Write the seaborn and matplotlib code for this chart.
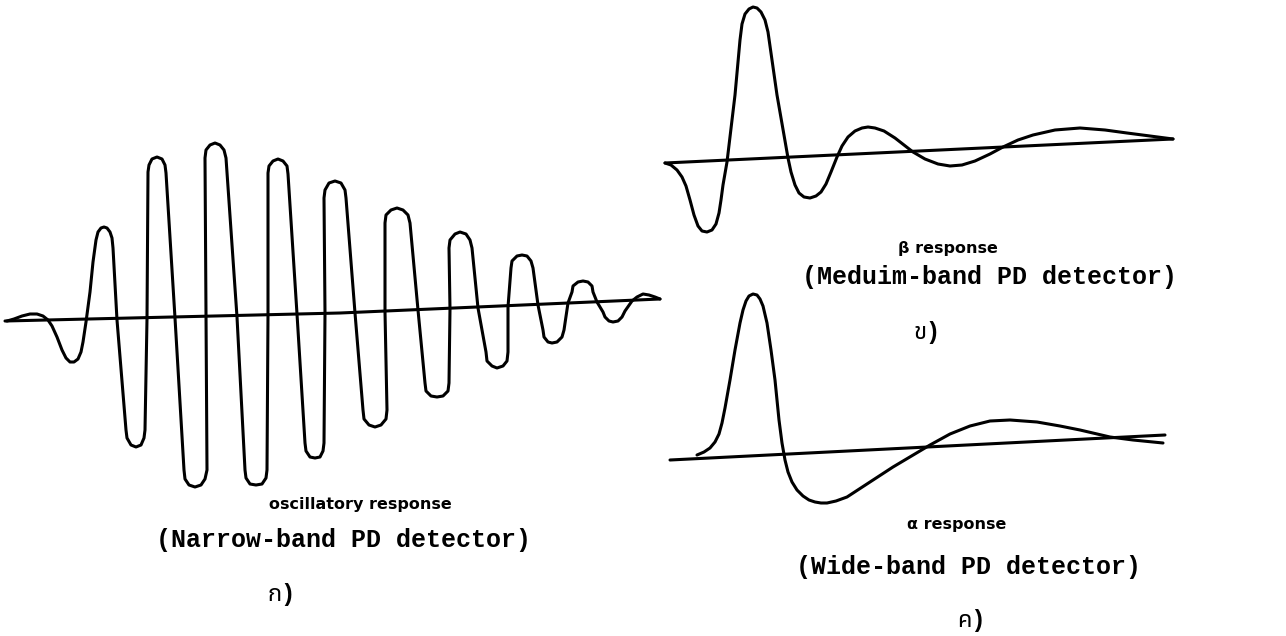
import seaborn as sns
import matplotlib.pyplot as plt

# values, in image pixel coordinates (y grows downwards)

# oscillatory response (narrow-band detector), left
osc_points = [
    (7, 321), (14, 319), (22, 316), (30, 314), (37, 314), (43, 316), (48, 320),
    (52, 326), (57, 337), (62, 350), (66, 358), (70, 362), (74, 362), (78, 359),
    (81, 352), (83, 342), (86, 322), (90, 292), (93, 262), (96, 240), (98, 232),
    (101, 228), (104, 227), (107, 228), (110, 232), (112, 238), (113, 248),
    (117, 320),
    (126, 430), (127, 438), (131, 445), (136, 447), (141, 445), (144, 438), (145, 430),
    (147, 319),
    (148, 172), (149, 165), (152, 159), (157, 157), (162, 159), (165, 165), (166, 173),
    (175, 318),
    (184, 470), (185, 479), (189, 485), (195, 487), (201, 485), (205, 479), (207, 470),
    (206, 318),
    (205, 158), (206, 150), (210, 145), (215, 143), (220, 145), (224, 150), (226, 158),
    (237, 317),
    (245, 470), (246, 478), (250, 484), (256, 485), (262, 484), (266, 478), (267, 470),
    (268, 315),
    (268, 173), (269, 166), (273, 161), (278, 159), (283, 161), (287, 166), (288, 174),
    (297, 314),
    (305, 443), (306, 451), (310, 457), (315, 458), (320, 457), (323, 451), (324, 443),
    (325, 313),
    (324, 198), (325, 190), (329, 183), (335, 181), (341, 183), (345, 190), (346, 198),
    (355, 313),
    (363, 410), (364, 419), (369, 425), (375, 427), (381, 425), (386, 419), (387, 410),
    (385, 312),
    (385, 223), (386, 215), (391, 210), (397, 208), (403, 210), (408, 215), (410, 223),
    (418, 310),
    (425, 383), (426, 391), (431, 396), (437, 397), (443, 396), (448, 391), (449, 383),
    (450, 309),
    (449, 248), (450, 240), (455, 234), (460, 232), (466, 234), (470, 240), (472, 248),
    (478, 308),
    (486, 352), (487, 361), (492, 366), (497, 368), (503, 366), (507, 361), (508, 352),
    (508, 307),
    (511, 268), (512, 261), (517, 256), (522, 255), (527, 256), (531, 261), (533, 268),
    (538, 305),
    (543, 330), (544, 337), (548, 342), (552, 343), (557, 342), (562, 337), (564, 330),
    (568, 303),
    (572, 292), (573, 286), (578, 282), (583, 281), (588, 282), (592, 286), (593, 292),
    (597, 302),
    (603, 312), (605, 317), (609, 321), (613, 322), (618, 321), (622, 317), (625, 311),
    (632, 301), (637, 297), (643, 294), (649, 295), (655, 297), (660, 299),
]
osc_base = [(5, 321), (340, 313), (660, 299)]

# beta response (medium-band detector), top right
beta_points = [
    (665, 163), (671, 165), (677, 170), (682, 177), (686, 186), (690, 200),
    (694, 215), (698, 226), (702, 231), (707, 232), (712, 230), (716, 224),
    (719, 213), (721, 200), (723, 185), (727, 162), (735, 95), (740, 40),
    (742, 24), (745, 14), (749, 9), (753, 7), (757, 8), (761, 12), (765, 20),
    (768, 32), (777, 95), (788, 158), (791, 172), (795, 185), (799, 193),
    (804, 197), (810, 198), (816, 196), (821, 192), (826, 184), (831, 172),
    (837, 157), (842, 146), (848, 137), (855, 131), (862, 128), (868, 127),
    (875, 128), (884, 131), (895, 138), (913, 152), (925, 159), (938, 164),
    (950, 166), (962, 165), (975, 161), (990, 154), (1003, 147), (1018, 140),
    (1033, 135), (1055, 130), (1080, 128), (1105, 130), (1127, 133), (1150, 136),
    (1173, 139),
]
beta_base = [(665, 163), (1173, 139)]

# alpha response (wide-band detector), bottom right
alpha_points = [
    (697, 455), (704, 452), (710, 448), (715, 442), (719, 434), (722, 423),
    (725, 408), (730, 380), (735, 350), (740, 323), (743, 310), (746, 301),
    (749, 296), (753, 294), (757, 295), (760, 299), (763, 306), (767, 323),
    (771, 350), (775, 380), (779, 420), (782, 443), (785, 460), (788, 472),
    (792, 482), (797, 490), (803, 496), (809, 500), (815, 502), (821, 503),
    (827, 503), (836, 501), (847, 497), (870, 482), (893, 467), (930, 445),
    (950, 434), (970, 426), (990, 421), (1010, 420), (1037, 422), (1060, 426),
    (1080, 430), (1110, 437), (1133, 440), (1163, 443),
]
alpha_base = [(670, 460), (1165, 435)]

# captions
small_labels = ["oscillatory response", "β response", "α response"]
small_pos = [(360, 505), (948, 248), (957, 525)]
detector_labels = ["(Narrow-band PD detector)", "(Meduim-band PD detector)",
                   "(Wide-band PD detector)"]
detector_pos = [(343, 540), (989, 277), (969, 567)]
panel_labels = ["ก)", "ข)", "ค)"]
panel_pos = [(282, 595), (927, 333), (971, 621)]

sns.set_theme(style="white")

fig = plt.figure(figsize=(12.86, 6.36), dpi=100)
ax = fig.add_axes([0, 0, 1, 1])

for pts in [osc_base, osc_points, beta_base, beta_points, alpha_base, alpha_points]:
    xs, ys = zip(*pts)
    sns.lineplot(x=list(xs), y=list(ys), sort=False, estimator=None,
                 color="black", linewidth=2.2, ax=ax,
                 solid_joinstyle="round", solid_capstyle="round")

mono = ["Liberation Mono", "Noto Sans Thai", "Loma", "Garuda", "DejaVu Sans"]
for txt, (x, y) in zip(small_labels, small_pos):
    ax.text(x, y, txt, ha="center", va="center", fontsize=11.5,
            fontweight="bold", family=["DejaVu Sans"], color="black")
for txt, (x, y) in zip(detector_labels, detector_pos):
    ax.text(x, y, txt, ha="center", va="center", fontsize=18,
            fontweight="bold", family=mono, color="black")
for txt, (x, y) in zip(panel_labels, panel_pos):
    ax.text(x, y, txt, ha="center", va="center", fontsize=17,
            fontweight="bold", family=mono, color="black")

ax.set_xlim(0, 1286)
ax.set_ylim(636, 0)
ax.axis("off")

fig.savefig("out.png", dpi=100, facecolor="white")
